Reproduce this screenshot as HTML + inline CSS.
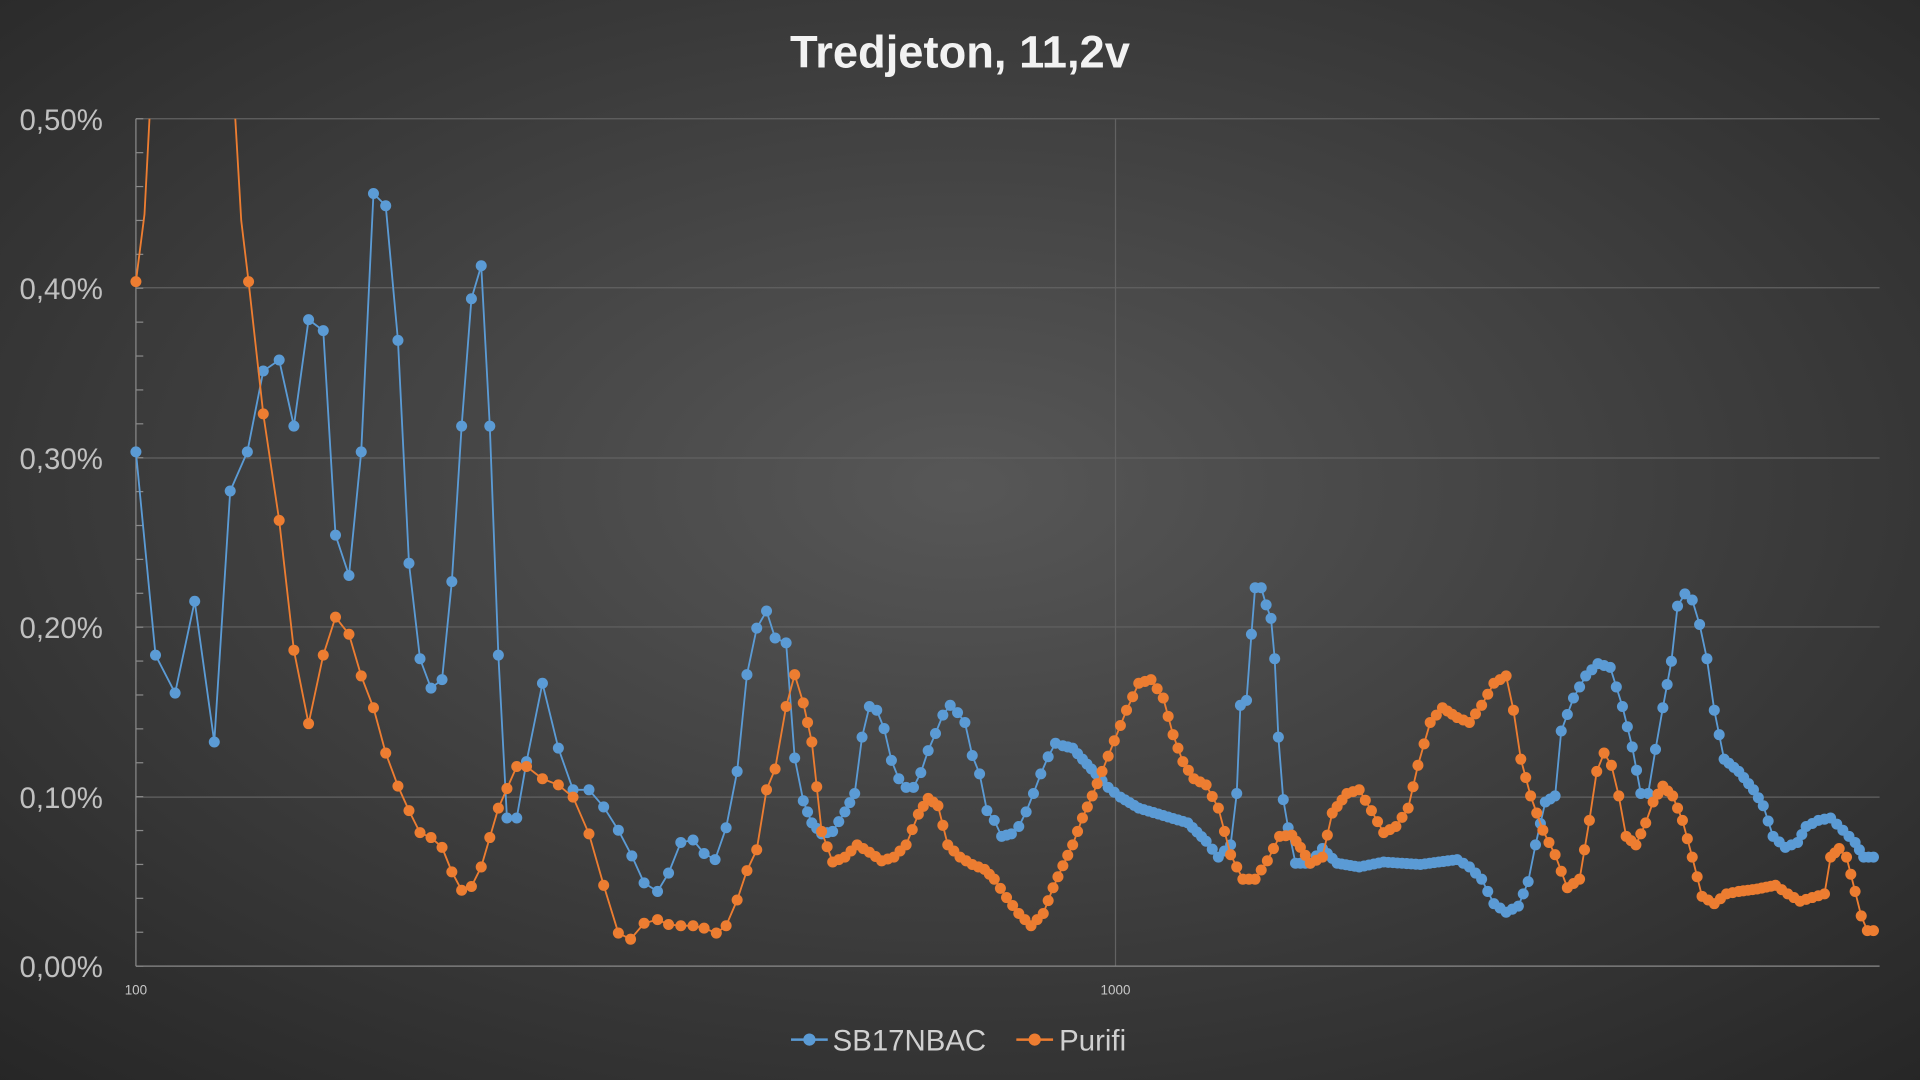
<!DOCTYPE html>
<html><head><meta charset="utf-8"><style>
html,body{margin:0;padding:0;width:1920px;height:1080px;overflow:hidden;background:#333}
svg{display:block}
</style></head><body>
<svg id="s" width="1920" height="1080" viewBox="0 0 1568 882" xmlns="http://www.w3.org/2000/svg">
<defs>
<radialGradient id="bg" cx="50%" cy="45%" r="75%">
<stop offset="0" stop-color="#575757"/><stop offset="1" stop-color="#262626"/>
</radialGradient>
<clipPath id="cp"><rect x="100" y="97" width="1445" height="700"/></clipPath>
</defs>
<rect width="1568" height="882" fill="url(#bg)"/>
<g stroke="#626262" stroke-width="1">
<line x1="111" y1="97" x2="1535" y2="97"/><line x1="111" y1="235" x2="1535" y2="235"/>
<line x1="111" y1="374" x2="1535" y2="374"/><line x1="111" y1="512" x2="1535" y2="512"/>
<line x1="111" y1="651" x2="1535" y2="651"/><line x1="911" y1="97" x2="911" y2="789"/>
</g>
<g stroke="#8a8a8a" stroke-width="1" id="ticks">
<line x1="111" y1="97" x2="111" y2="789"/><line x1="111" y1="789" x2="1535" y2="789"/>
</g>
<g font-family="Liberation Sans, sans-serif" fill="#c0c0c0" font-size="24" text-anchor="end">
<text x="84" y="106">0,50%</text><text x="84" y="244">0,40%</text><text x="84" y="383">0,30%</text>
<text x="84" y="521">0,20%</text><text x="84" y="660">0,10%</text><text x="84" y="798">0,00%</text>
</g>
<g font-family="Liberation Sans, sans-serif" fill="#c8c8c8" font-size="11" text-anchor="middle">
<text x="111" y="812">100</text><text x="911" y="812">1000</text>
</g>
<text x="784" y="55" text-anchor="middle" font-family="Liberation Sans, sans-serif" font-weight="bold" font-size="37" fill="#f2f2f2">Tredjeton, 11,2v</text>
<g clip-path="url(#cp)" id="plot"></g>
<g font-family="Liberation Sans, sans-serif" fill="#d0d0d0" font-size="24">
<line x1="646" y1="849" x2="676" y2="849" stroke="#5b9bd5" stroke-width="2"/><circle cx="661" cy="849" r="5" fill="#5b9bd5"/>
<text x="680" y="858">SB17NBAC</text>
<line x1="830" y1="849" x2="860" y2="849" stroke="#ed7d31" stroke-width="2"/><circle cx="845" cy="849" r="5" fill="#ed7d31"/>
<text x="865" y="858">Purifi</text>
</g>
</svg>
<script>
var B=[111,369,127,535,143,566,159,491,175,606,188,401,202,369,215,303,228,294,240,348,252,261,264,270,274,437,285,470,295,369,305,158,315,168,325,278,334,460,343,538,352,562,361,555,369,475,377,348,385,244,393,217,400,348,407,535,414,668,422,668,430,622,443,558,456,611,468,645,481,645,493,659,505,678,516,699,526,721,537,728,546,713,556,688,566,686,575,697,584,702,593,676,602,630,610,551,618,513,626,499,633,521,642,525,649,619,656,654,663,672,671,681,680,679,690,663,698,648,704,602,710,577,716,580,722,595,728,621,734,636,740,643,746,643,752,631,758,613,764,599,770,584,776,576,782,582,788,590,794,617,800,632,806,662,812,670,818,683,826,681,832,675,838,663,844,648,850,632,856,618,862,607,868,609,876,611,884,620,895,632,905,643,915,651,930,660,950,666,970,672,985,687,995,700,1005,690,1010,648,1013,576,1018,572,1022,518,1025,480,1030,480,1034,494,1038,505,1041,538,1044,602,1048,653,1052,676,1058,705,1070,705,1080,693,1092,705,1110,708,1130,704,1160,706,1190,702,1200,708,1210,718,1220,738,1230,745,1240,740,1248,720,1254,690,1262,655,1270,650,1275,597,1285,570,1295,552,1305,542,1315,545,1325,577,1333,610,1340,648,1346,648,1352,612,1358,578,1365,540,1370,495,1376,485,1382,490,1388,510,1394,538,1400,580,1408,620,1420,630,1432,645,1440,658,1448,683,1458,692,1468,688,1475,675,1485,670,1495,668,1505,678,1515,688,1522,700,1530,700];
var O=[111,230,118,175,124,60,190,60,197,180,203,230,215,338,228,425,240,531,252,591,264,535,274,504,285,518,295,552,305,578,315,615,325,642,334,662,343,680,352,684,361,692,369,712,377,727,385,724,393,708,400,684,407,660,414,644,422,626,430,626,443,636,456,641,468,651,481,681,493,723,505,762,515,767,526,754,537,751,546,755,556,756,566,756,575,758,585,762,593,756,602,735,610,711,618,694,626,645,633,628,642,577,649,551,656,574,663,606,671,679,680,704,690,700,700,690,710,696,720,703,730,700,740,690,750,665,758,652,766,658,774,690,784,700,794,706,804,710,812,718,822,733,832,746,842,756,852,746,860,725,868,707,876,690,884,668,892,650,900,630,910,605,920,580,930,558,940,555,950,570,958,600,966,622,975,636,985,641,995,660,1005,698,1015,718,1025,718,1035,703,1045,683,1055,682,1062,692,1070,705,1080,700,1088,664,1100,648,1110,645,1120,662,1130,680,1140,675,1150,660,1158,625,1168,590,1178,578,1190,586,1200,590,1210,576,1220,558,1230,552,1236,580,1242,620,1250,650,1260,678,1270,698,1280,725,1290,718,1298,670,1304,630,1310,615,1316,625,1322,650,1328,683,1336,690,1344,672,1350,655,1358,642,1366,650,1374,670,1382,700,1390,732,1400,738,1410,730,1420,728,1435,726,1450,723,1460,730,1470,736,1480,733,1490,730,1495,700,1502,693,1508,700,1515,728,1520,748,1525,760,1530,760];
var skip={118:1,197:1};
var NS="http://www.w3.org/2000/svg",g=document.getElementById('plot');
function draw(a,c,sk){var p=document.createElementNS(NS,'polyline'),pts=[];
for(var i=0;i<a.length;i+=2)pts.push(a[i]+','+a[i+1]);
p.setAttribute('points',pts.join(' '));p.setAttribute('fill','none');p.setAttribute('stroke',c);p.setAttribute('stroke-width','1.5');g.appendChild(p);
function dot(x,y){if(y<90)return;if(sk&&sk[x])return;var e=document.createElementNS(NS,'circle');e.setAttribute('cx',x);e.setAttribute('cy',y);e.setAttribute('r','4.5');e.setAttribute('fill',c);g.appendChild(e);}
for(var i=0;i<a.length-2;i+=2){var x0=a[i],y0=a[i+1],x1=a[i+2],y1=a[i+3];dot(x0,y0);
if(x0>=650){var n=Math.floor((x1-x0)/3.5);for(var k=1;k<n;k++){var t=k/n;dot(x0+(x1-x0)*t,y0+(y1-y0)*t);}}}
dot(a[a.length-2],a[a.length-1]);}
draw(B,'#5b9bd5',null);draw(O,'#ed7d31',skip);
var tk=document.getElementById('ticks');
for(var v=0;v<=25;v++){var y=789-v*27.68;var l=document.createElementNS(NS,'line');l.setAttribute('x1',111);l.setAttribute('x2',117);l.setAttribute('y1',y);l.setAttribute('y2',y);tk.appendChild(l);}
</script>
</body></html>
